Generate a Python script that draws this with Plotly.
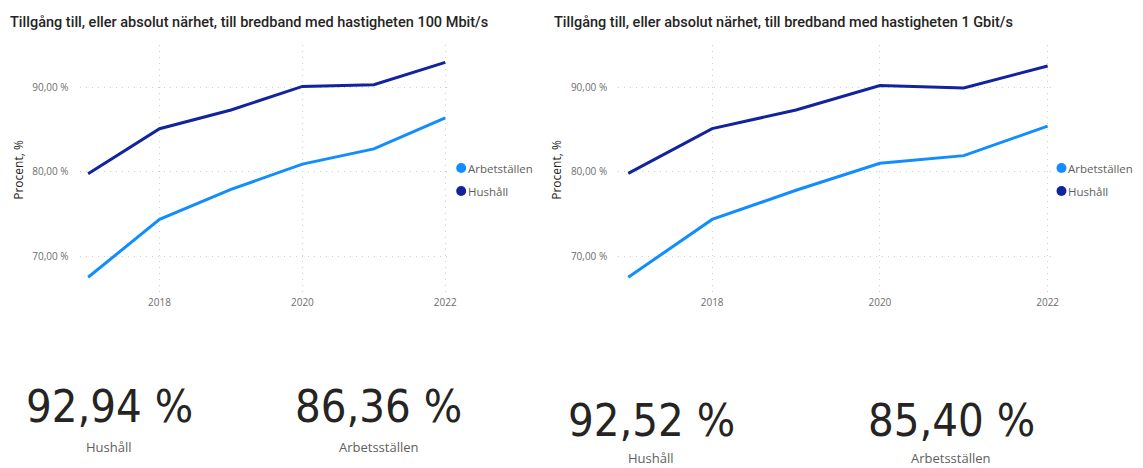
import plotly.graph_objects as go

# Data
years = [2017, 2018, 2019, 2020, 2021, 2022]

hushall_100 = [79.76, 85.09, 87.30, 90.10, 90.30, 92.94]
arbete_100 = [67.50, 74.35, 77.90, 80.90, 82.70, 86.36]

hushall_1g = [79.80, 85.10, 87.30, 90.20, 89.90, 92.52]
arbete_1g = [67.50, 74.35, 77.80, 81.00, 81.90, 85.40]

y_ticks = [70, 80, 90]
y_ticktext = ["70,00 %", "80,00 %", "90,00 %"]
x_ticks = [2018, 2020, 2022]

titles = ["Tillgång till, eller absolut närhet, till bredband med hastigheten 100 Mbit/s",
          "Tillgång till, eller absolut närhet, till bredband med hastigheten 1 Gbit/s"]
legend_names = ["Arbetställen", "Hushåll"]

c_arb = "#118DFF"
c_hus = "#12239E"
grey = "#605E5C"
tick_grey = "#6E6E6E"
dark = "#252423"

# the page body has an 8px margin, so the figure is drawn 8px in from the top-left
OFF = 8
W, H = 1143 - OFF, 468 - OFF


def px(x):
    return (x - OFF) / W


def py(y):
    return 1 - (y - OFF) / H


fig = go.Figure()

panels = [("x", "y", hushall_100, arbete_100), ("x2", "y2", hushall_1g, arbete_1g)]

for xa, ya, hus, arb in panels:
    fig.add_trace(go.Scatter(x=years, y=arb, mode="lines", name=legend_names[0],
                             line=dict(color=c_arb, width=3), xaxis=xa, yaxis=ya,
                             showlegend=False))
    fig.add_trace(go.Scatter(x=years, y=hus, mode="lines", name=legend_names[1],
                             line=dict(color=c_hus, width=3), xaxis=xa, yaxis=ya,
                             showlegend=False))

ax_x = dict(range=[2016.88, 2022.07], tickvals=x_ticks, showgrid=True,
            gridcolor="#CFCFCF", griddash="1px,5px", gridwidth=1, zeroline=False, showline=False,
            tickfont=dict(family="Open Sans", size=10, color=tick_grey), ticks="")
ax_y = dict(range=[65.4, 95.0], tickvals=y_ticks, ticktext=y_ticktext,
            showgrid=True, gridcolor="#CFCFCF", griddash="1px,5px", gridwidth=1, zeroline=False,
            tickfont=dict(family="Open Sans", size=10, color=tick_grey), ticks="",
            ticklabelstandoff=10,
            title=dict(text="Procent, %", font=dict(family="Open Sans", size=12, color=dark),
                       standoff=6))

fig.update_layout(
    width=W, height=H,
    margin=dict(l=0, r=0, t=0, b=0),
    paper_bgcolor="white", plot_bgcolor="white",
    showlegend=False,
    xaxis=dict(ax_x, domain=[px(80), px(453)], anchor="y"),
    yaxis=dict(ax_y, domain=[py(295), py(45)], anchor="x"),
    xaxis2=dict(ax_x, domain=[px(622), px(1060)], anchor="y2"),
    yaxis2=dict(ax_y, domain=[py(295), py(45)], anchor="x2"),
)

# panel titles
for t, x0 in zip(titles, [8, 555]):
    fig.add_annotation(text=t, x=px(x0), y=py(22), xref="paper", yref="paper",
                       xanchor="left", yanchor="middle", showarrow=False,
                       font=dict(family="Roboto", size=14.5, weight=500, color=dark))

# legends: round markers beside the names, as in the report
for lx in [464, 1068]:
    for name, col, ly in zip(legend_names, [c_arb, c_hus], [168, 191]):
        fig.add_shape(type="circle", xref="paper", yref="paper",
                      x0=px(lx - 5), x1=px(lx + 5), y0=py(ly + 5), y1=py(ly - 5),
                      fillcolor=col, line=dict(width=0))
        fig.add_annotation(text=name, x=px(lx + 6), y=py(ly), xref="paper", yref="paper",
                           xanchor="left", yanchor="middle", showarrow=False, borderpad=0,
                           font=dict(family="Open Sans", size=11.5, color=grey))


def fmt(v):
    return f"{v:.2f} %".replace(".", ",")


# big number cards
cards = [
    (hushall_100[-1], "Hushåll", 110, 406, 447),
    (arbete_100[-1], "Arbetsställen", 381, 406, 447),
    (hushall_1g[-1], "Hushåll", 655, 420, 458),
    (arbete_1g[-1], "Arbetsställen", 957, 420, 458),
]
for val, lab, cx, vy, ly in cards:
    fig.add_annotation(text=fmt(val), x=px(cx), y=py(vy), xref="paper", yref="paper",
                       xanchor="center", yanchor="middle", showarrow=False,
                       font=dict(family="DejaVu Sans Condensed, DejaVu Sans", size=45, color=dark))
    fig.add_annotation(text=lab, x=px(cx), y=py(ly), xref="paper", yref="paper",
                       xanchor="center", yanchor="middle", showarrow=False, borderpad=0,
                       font=dict(family="Open Sans", size=13, color=grey))

fig.write_html("out.html")
